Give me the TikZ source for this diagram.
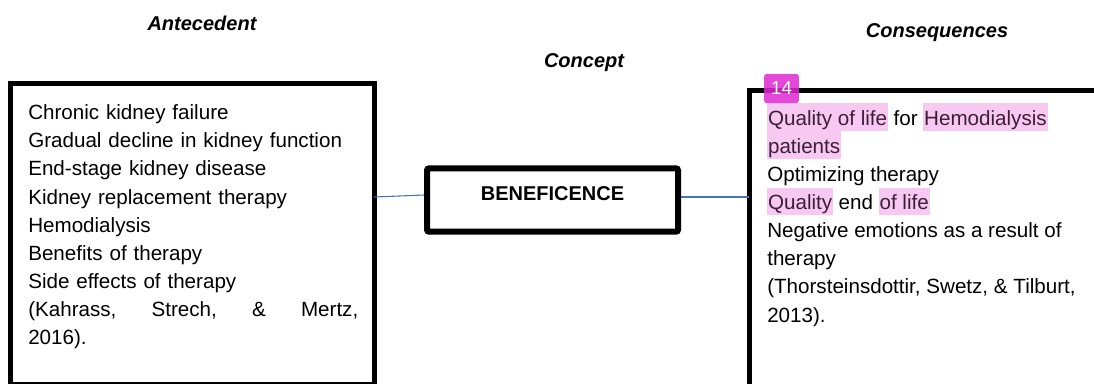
\documentclass[tikz,border=0pt]{standalone}
\usepackage{fontspec}
\setmainfont{Liberation Sans}
\definecolor{hlpink}{RGB}{247,200,242}
\definecolor{hltext}{RGB}{60,30,58}
\definecolor{badge}{RGB}{224,40,210}
\definecolor{linkblue}{RGB}{68,114,196}
\newcommand{\hlw}[1]{\smash{\setlength{\fboxsep}{0pt}\colorbox{hlpink}{\rule[-4.4pt]{0pt}{20.9pt}\kern0.6pt\textcolor{hltext}{#1}\kern0.6pt}}}
\begin{document}
\begin{tikzpicture}[x=0.75pt,y=-0.75pt,
  heading/.style={font=\fontsize{15}{18}\selectfont\bfseries\itshape, inner sep=0pt},
  bodytext/.style={font=\fontsize{15.45}{21.1}\selectfont, align=left, inner sep=0pt, anchor=north west},
  bigbox/.style={draw=black, line width=3.75pt},
  conceptbox/.style={draw=black, line width=4.5pt, rounded corners=1.5pt, minimum width=188.25pt, minimum height=47.5pt, font=\fontsize{15}{18}\selectfont\bfseries},
  link/.style={draw=linkblue, line width=0.8pt}]
\useasboundingbox (0,0) rectangle (1094,383);
\fill[white] (0,0) rectangle (1094,383);
% headings
\node[heading] (hA) at (202,23) {Antecedent};
\node[heading] (hC) at (584,63) {Concept};
\node[heading] (hQ) at (937,33) {Consequences};
% boxes
\draw[bigbox] (10.5,83.5) rectangle (374,384.5);
\coordinate (leftR) at (374,197);
\draw[bigbox] (749,90) rectangle (1110,400);
\coordinate (rightL) at (749,197);
\node[conceptbox] (concept) at (552.5,200) {\raisebox{0pt}[0pt][0pt]{BENEFICENCE}};
% connectors
\draw[link] (leftR) -- ([yshift=3.75pt]concept.west);
\draw[link] ([yshift=2.25pt]concept.east) -- (rightL);
% left text
\node[bodytext, text width=247.5pt] (lefttext) at (28,104.5) {%
Chronic kidney failure\\
Gradual decline in kidney function\\
End-stage kidney disease\\
Kidney replacement therapy\\
Hemodialysis\\
Benefits of therapy\\
Side effects of therapy\\
\leavevmode\hbox to 247.5pt{(Kahrass,\hfill Strech,\hfill \&\hfill Mertz,}\\
2016).};
% right text
\node[bodytext] (righttext) at (767,110) {%
\hlw{Quality of life} for \hlw{Hemodialysis}\\
\hlw{patients}\\
Optimizing therapy\\
\hlw{Quality} end \hlw{of life}\\
Negative emotions as a result of\\
therapy\\
(Thorsteinsdottir, Swetz, \& Tilburt,\\
2013).};
% badge
\node[fill=badge, fill opacity=0.85, text opacity=1, text=white, rounded corners=2pt, minimum width=26pt, minimum height=22pt, inner sep=0pt, font=\fontsize{14}{16}\selectfont] (badge) at (781.5,88.5) {14};
\end{tikzpicture}
\end{document}
